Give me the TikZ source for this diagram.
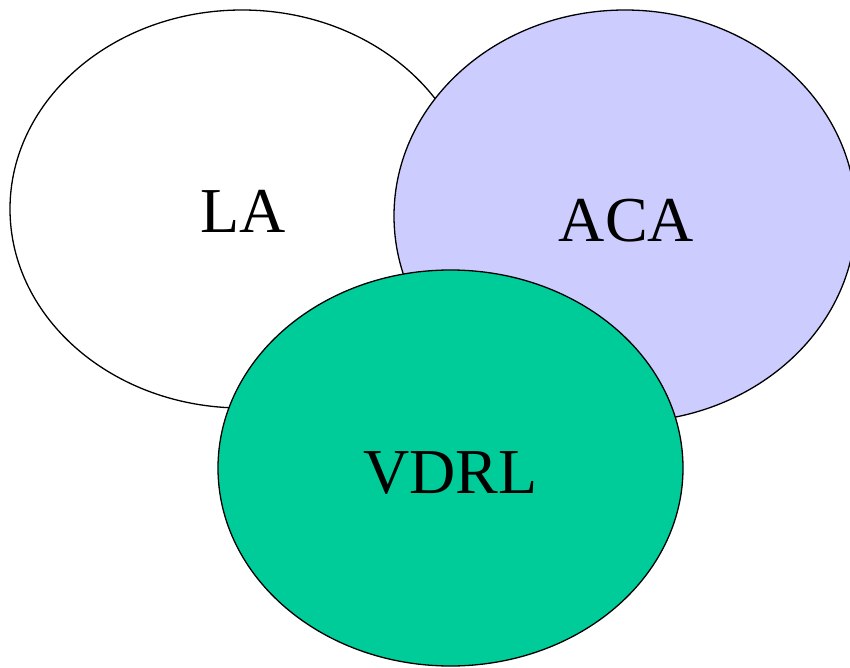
\documentclass[tikz,border=0pt]{standalone}
\usepackage{fontspec}
\setmainfont{Liberation Serif}
\usetikzlibrary{shapes.geometric}
\definecolor{acafill}{HTML}{CCCCFF}
\definecolor{vdrlfill}{HTML}{00CC99}
\tikzset{
  setoval/.style={ellipse, draw=black, line width=1.3pt, inner sep=0pt},
  setname/.style={anchor=base, inner sep=0pt, font=\fontsize{64}{64}\selectfont}
}
\begin{document}
\begin{tikzpicture}[x=1pt,y=1pt]
  \useasboundingbox (0,0) rectangle (850,667);
  % the three overlapping sets, back to front
  \node[setoval, fill=white, minimum width=464pt, minimum height=398pt] (la) at (242,458) {};
  \node[setoval, fill=acafill, minimum width=462pt, minimum height=412pt] (aca) at (625,451) {};
  \node[setoval, fill=vdrlfill, minimum width=465pt, minimum height=396pt] (vdrl) at (450.5,199) {};
  % set names
  \node[setname] (laname) at (243,434) {LA};
  \node[setname] (acaname) at (626.5,425) {ACA};
  \node[setname] (vdrlname) at (450.5,174) {VDRL};
\end{tikzpicture}
\end{document}
